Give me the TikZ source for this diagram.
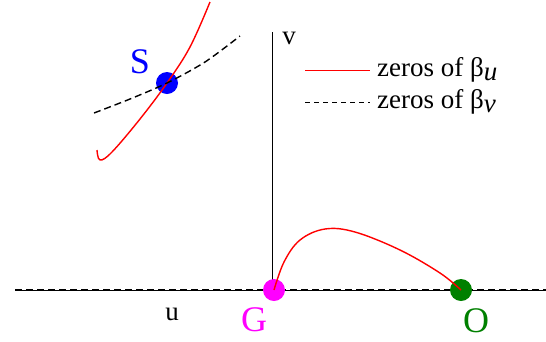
\documentclass[tikz,border=0pt]{standalone}
\usepackage{fontspec}
\setmainfont{Liberation Serif}
\definecolor{pmag}{RGB}{255,0,255}
\definecolor{pblue}{RGB}{0,0,255}
\definecolor{pgreen}{RGB}{0,128,0}
\definecolor{pred}{RGB}{255,0,0}
\begin{document}
\begin{tikzpicture}[x=1pt,y=-1pt]
\tikzset{
  redcurve/.style={draw=pred, line width=1.4pt},
  zerodash/.style={draw=black, line width=1.4pt, dash pattern=on 7pt off 4pt},
  legdash/.style={draw=black, line width=0.9pt, dash pattern=on 5pt off 4pt},
  axisline/.style={draw=black, line width=0.8pt},
  dot/.style={circle, inner sep=0pt, minimum size=22pt},
  lab/.style={font=\fontsize{27}{27}\selectfont, inner sep=0pt},
  biglab/.style={font=\fontsize{36}{36}\selectfont, inner sep=0pt}
}
\useasboundingbox (0,0) rectangle (546,341);
% axes
\coordinate (uL) at (15,290);
\coordinate (uR) at (546,290);
\coordinate (vT) at (272,32);
\coordinate (vB) at (272,290);
\draw[axisline] (uL) -- (uR);
\draw[zerodash] (uL) -- (uR);
\draw[axisline] (vT) -- (vB);
\node[lab] (vlab) at (289,38) {v};
\node[lab] (ulab) at (172,314) {u};
% dots
\node[dot, fill=pblue] (S) at (167,83) {};
\node[dot, fill=pmag] (G) at (274,290) {};
\node[dot, fill=pgreen] (O) at (461,290) {};
% curves
\draw[redcurve] plot[smooth, tension=0.6] coordinates {(274,290) (284,262) (300,240) (325,229) (355,232) (400,250) (440,273) (461,290)};
\draw[redcurve] plot[smooth, tension=0.6] coordinates {(97,150) (100,160) (112,152) (140,119) (167,83) (190,47) (210,2)};
\draw[zerodash] plot[smooth] coordinates {(94,113) (130,99) (167,83) (205,62) (240,36)};
\node[biglab, text=pblue] (Slab) at (140,62) {S};
\node[biglab, text=pmag] (Glab) at (254,320) {G};
\node[biglab, text=pgreen] (Olab) at (476,321) {O};
% legend
\coordinate (l1a) at (305,70); \coordinate (l1b) at (370,70);
\coordinate (l2a) at (305,102); \coordinate (l2b) at (370,102);
\draw[draw=pred, line width=1pt] (l1a) -- (l1b);
\draw[legdash] (l2a) -- (l2b);
\node[lab, anchor=west] (leg1) at (377,70) {zeros of β\raisebox{-0.35ex}{\textit{u}}};
\node[lab, anchor=west] (leg2) at (377,102) {zeros of β\raisebox{-0.35ex}{\textit{v}}};
\end{tikzpicture}
\end{document}
